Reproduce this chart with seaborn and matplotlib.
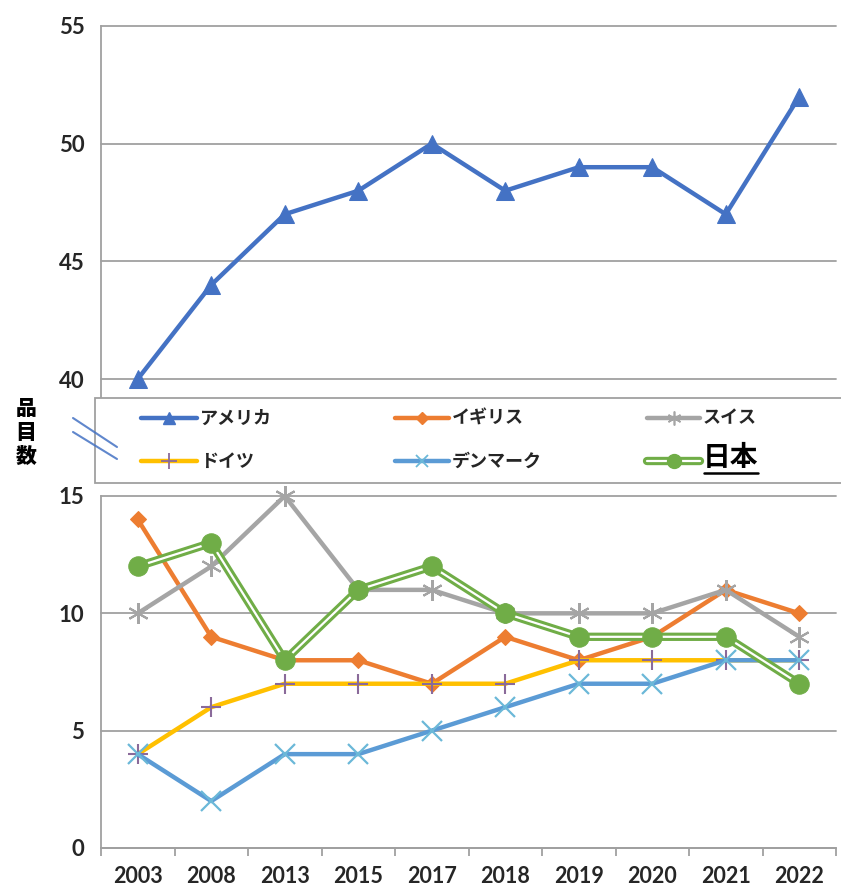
import matplotlib
matplotlib.use("Agg")
import matplotlib.pyplot as plt
from matplotlib.lines import Line2D
from matplotlib.patches import Rectangle
from matplotlib.ticker import FixedLocator
import pandas as pd
import seaborn as sns

# ---- data -----------------------------------------------------------------
years = ["2003", "2008", "2013", "2015", "2017", "2018", "2019", "2020", "2021", "2022"]
america = [40, 44, 47, 48, 50, 48, 49, 49, 47, 52]
uk = [14, 9, 8, 8, 7, 9, 8, 9, 11, 10]
swiss = [10, 12, 15, 11, 11, 10, 10, 10, 11, 9]
germany = [4, 6, 7, 7, 7, 7, 8, 8, 8, 8]
denmark = [4, 2, 4, 4, 5, 6, 7, 7, 8, 8]
japan = [12, 13, 8, 11, 12, 10, 9, 9, 9, 7]
names = ["アメリカ", "イギリス", "スイス", "ドイツ", "デンマーク", "日本"]
ylabel = "品\n目\n数"

# ---- styles ---------------------------------------------------------------
BLUE = "#4472C4"
ORANGE = "#ED7D31"
GRAY = "#A5A5A5"
YELLOW = "#FFC000"
LBLUE = "#5B9BD5"
GREEN = "#70AD47"
GRID = "#A0A0A0"
TXT = "#262626"

sns.set_style("white")
plt.rcParams["font.family"] = ["Lato", "DejaVu Sans"]
JP = ["Noto Sans CJK JP", "DejaVu Sans"]

W, H = 841, 890
fig = plt.figure(figsize=(W / 100, H / 100), dpi=100)


def fy(py):
    return 1 - py / H


x_pos = list(range(len(years)))
df = pd.DataFrame({"pos": x_pos, "america": america, "uk": uk, "swiss": swiss,
                   "germany": germany, "denmark": denmark, "japan": japan})

# upper panel (40-55) and lower panel (0-15) of the broken axis
ax_top = fig.add_axes([101 / W, fy(397), 735 / W, (397 - 26) / H])
ax_bot = fig.add_axes([101 / W, fy(848), 735 / W, (848 - 483) / H])

top_lo = 40 - (397 - 379) / ((379 - 26) / 15)
bot_hi = 15 + (496 - 483) / ((848 - 496) / 15)
ax_top.set_ylim(top_lo, 55)
ax_bot.set_ylim(0, bot_hi)

for ax, ticks in ((ax_top, [40, 45, 50, 55]), (ax_bot, [0, 5, 10, 15])):
    ax.set_xlim(-0.5, len(years) - 0.5)
    ax.set_yticks(ticks)
    ax.set_yticklabels([str(t) for t in ticks])
    ax.grid(False)
    for t in ticks:
        ax.axhline(t, color=GRID, lw=1.3, zorder=0, clip_on=False)
    for s in ("top", "right", "bottom"):
        ax.spines[s].set_visible(False)
    ax.spines["left"].set_color(GRID)
    ax.spines["left"].set_linewidth(1.3)
    ax.tick_params(axis="y", length=5, width=1.3, color=GRID, pad=7,
                   labelsize=16, labelcolor=TXT)
    for lab in ax.get_yticklabels():
        lab.set_fontweight("bold")
    ax.patch.set_alpha(0)

ax_top.spines["left"].set_bounds(top_lo, 55)
ax_bot.spines["left"].set_bounds(0, 15)
ax_top.set_xticks([])

ax_bot.spines["bottom"].set_visible(True)
ax_bot.spines["bottom"].set_color(GRID)
ax_bot.spines["bottom"].set_linewidth(1.3)
ax_bot.set_xticks(x_pos)
ax_bot.set_xticklabels(years)
ax_bot.xaxis.set_minor_locator(FixedLocator([p - 0.5 for p in range(len(years) + 1)]))
ax_bot.tick_params(axis="x", which="major", length=0, pad=13, labelsize=15.5,
                   labelcolor=TXT)
ax_bot.tick_params(axis="x", which="minor", length=6, width=1.3, color=GRID,
                   direction="out", bottom=True)
for lab in ax_bot.get_xticklabels():
    lab.set_fontweight("bold")

LW = 3.2

# upper series
sns.lineplot(data=df, x="pos", y="america", ax=ax_top, color=BLUE, lw=LW,
             marker="^", markersize=13, markeredgecolor=BLUE, clip_on=False)

# lower series, in drawing order
sns.lineplot(data=df, x="pos", y="uk", ax=ax_bot, color=ORANGE, lw=LW,
             marker="D", markersize=8, markeredgecolor=ORANGE, clip_on=False)
sns.lineplot(data=df, x="pos", y="swiss", ax=ax_bot, color=GRAY, lw=LW,
             marker=(6, 2, 0), markersize=15, markeredgewidth=1.5,
             markeredgecolor=GRAY, clip_on=False)
sns.lineplot(data=df, x="pos", y="germany", ax=ax_bot, color=YELLOW, lw=LW,
             marker="+", markersize=15, markeredgewidth=1.5,
             markeredgecolor="#8A6A9A", clip_on=False)
sns.lineplot(data=df, x="pos", y="denmark", ax=ax_bot, color=LBLUE, lw=LW,
             marker="x", markersize=15, markeredgewidth=1.6,
             markeredgecolor="#6BB8D8", clip_on=False)
# double line for Japan: wide green stroke with a thin white core
sns.lineplot(data=df, x="pos", y="japan", ax=ax_bot, color=GREEN, lw=6.0,
             clip_on=False)
sns.lineplot(data=df, x="pos", y="japan", ax=ax_bot, color="white", lw=1.6,
             clip_on=False)
sns.lineplot(data=df, x="pos", y="japan", ax=ax_bot, color=GREEN, lw=0,
             marker="o", markersize=14, markeredgecolor=GREEN, clip_on=False)

for ax in (ax_top, ax_bot):
    ax.set_xlabel("")
    ax.set_ylabel("")

# ---- legend box between the panels ----------------------------------------
fig.patches.append(Rectangle((95 / W, fy(483)), (860 - 95) / W, (483 - 398) / H,
                             transform=fig.transFigure, facecolor="white",
                             edgecolor=GRID, lw=1.3, zorder=5))

leg_styles = [
    dict(color=BLUE, marker="^", ms=9, mec=BLUE),
    dict(color=ORANGE, marker="D", ms=6, mec=ORANGE),
    dict(color=GRAY, marker=(6, 2, 0), ms=10, mec=GRAY, mew=1.2),
    dict(color=YELLOW, marker="+", ms=11, mec="#8A6A9A", mew=1.3),
    dict(color=LBLUE, marker="x", ms=9, mec="#6BB8D8", mew=1.3),
    dict(color=GREEN, marker="o", ms=10, mec=GREEN),
]
cols = [(141, 197, 200), (395, 449, 452), (647, 700, 703)]
rows = [418, 461]
japan_label = None
for i, (name, st) in enumerate(zip(names, leg_styles)):
    x0, x1, xt = cols[i % 3]
    yy = fy(rows[i // 3])
    if name == "日本":
        fig.add_artist(Line2D([x0 / W, x1 / W], [yy, yy], color=GREEN, lw=6.0,
                              transform=fig.transFigure, zorder=6))
        fig.add_artist(Line2D([x0 / W, x1 / W], [yy, yy], color="white", lw=1.6,
                              transform=fig.transFigure, zorder=6))
        fig.add_artist(Line2D([(x0 + x1) / 2 / W], [yy], lw=0,
                              transform=fig.transFigure, zorder=7, **st))
        japan_label = fig.text(xt / W, fy(458), name, family=JP, fontsize=20,
                               fontweight="bold", color="black", ha="left",
                               va="center", zorder=7)
    else:
        fig.add_artist(Line2D([x0 / W, x1 / W], [yy, yy], lw=LW,
                              transform=fig.transFigure, zorder=6,
                              color=st["color"]))
        mst = {k: v for k, v in st.items() if k != "color"}
        fig.add_artist(Line2D([(x0 + x1) / 2 / W], [yy], lw=0,
                              color=st["color"], transform=fig.transFigure,
                              zorder=7, **mst))
        fig.text(xt / W, yy, name, family=JP, fontsize=13, fontweight="bold",
                 color=TXT, ha="left", va="center", zorder=7)

# underline under the bold 日本 entry, matched to the rendered text width
fig.canvas.draw()
bb = japan_label.get_window_extent()
fig.add_artist(Line2D([bb.x0 / W + 1 / W, bb.x1 / W - 1 / W], [fy(473), fy(473)],
                      color="black", lw=1.8, transform=fig.transFigure, zorder=7))

# axis-break marks
for (xa, ya, xb, yb) in ((73, 418, 117, 447), (73, 432, 117, 459)):
    fig.add_artist(Line2D([xa / W, xb / W], [fy(ya), fy(yb)], color=BLUE,
                          lw=1.5, alpha=0.85, transform=fig.transFigure, zorder=8))

# vertical axis title
fig.text(26 / W, fy(433), ylabel, family=JP, fontsize=15, fontweight="heavy",
         color="black", ha="center", va="center", linespacing=1.25)

fig.savefig("out.png", dpi=100)
